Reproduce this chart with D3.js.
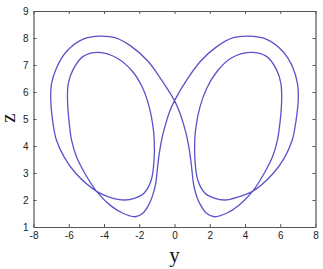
<!DOCTYPE html>
<html>
<head>
<meta charset="utf-8">
<script src="https://cdn.jsdelivr.net/npm/d3@7"></script>
<style>
  html, body { margin: 0; padding: 0; background: #fff; }
  svg { display: block; }
</style>
</head>
<body>
<svg id="chart" width="323" height="269"></svg>
<script>
// Tick values
const xTicks = [-8, -6, -4, -2, 0, 2, 4, 6, 8];
const yTicks = [1, 2, 3, 4, 5, 6, 7, 8, 9];

// Orbit, in drawing order (closed path)
const orbitY = [
  0, 0.69, 1.45, 2.40, 3.34, 4.18, 5.20, 6.15, 6.72, 6.98, 7.02, 6.90, 6.68, 6.25, 5.58, 4.43,
  3.63, 2.87, 2.30, 1.73, 1.32, 1.16, 1.15, 1.22, 1.45, 1.83, 2.40, 3.20, 4.30,
  5.24, 5.80, 6.04, 6.08, 6.00, 5.84, 5.56, 5.09, 4.43,
  3.66, 2.95, 2.26, 1.80, 1.45, 1.25, 1.08, 0.98, 0.88, 0.70, 0.50, 0.28, 0,
  -0.73, -1.48, -2.43, -3.38, -4.22, -5.18, -6.13, -6.69, -6.98, -7.02, -6.92, -6.70, -6.25, -5.58, -4.42,
  -3.66, -2.84, -2.28, -1.72, -1.32, -1.16, -1.15, -1.22, -1.44, -1.80, -2.37, -3.24, -4.30,
  -5.20, -5.77, -6.03, -6.07, -5.99, -5.84, -5.56, -5.09, -4.42,
  -3.66, -2.93, -2.23, -1.78, -1.43, -1.24, -1.07, -0.97, -0.87, -0.69, -0.49, -0.28
];
const orbitZ = [
  5.68, 6.44, 7.12, 7.68, 8.01, 8.07, 7.96, 7.50, 6.90, 6.30, 5.70, 4.96, 4.22, 3.58, 2.97, 2.32,
  2.12, 2.00, 2.06, 2.25, 2.74, 3.48, 4.22, 4.72, 5.46, 6.14, 6.75, 7.25, 7.47,
  7.31, 6.81, 6.30, 5.70, 4.96, 4.22, 3.60, 2.99, 2.32,
  1.81, 1.51, 1.38, 1.52, 1.85, 2.15, 2.60, 3.15, 3.70, 4.35, 4.84, 5.27, 5.68,
  6.44, 7.12, 7.68, 8.01, 8.07, 7.96, 7.50, 6.90, 6.30, 5.70, 4.96, 4.22, 3.58, 2.97, 2.32,
  2.10, 2.00, 2.06, 2.26, 2.74, 3.48, 4.22, 4.72, 5.46, 6.14, 6.75, 7.25, 7.47,
  7.31, 6.81, 6.30, 5.70, 4.96, 4.22, 3.60, 2.99, 2.32,
  1.81, 1.51, 1.38, 1.52, 1.86, 2.17, 2.60, 3.15, 3.70, 4.35, 4.84, 5.27
];

const xLabel = "y";
const yLabel = "z";

const mLeft = 33.5, mRight = 315.5, mTop = 11, mBottom = 227;

const svg = d3.select("#chart");
const x = d3.scaleLinear().domain([-8, 8]).range([mLeft, mRight]);
const y = d3.scaleLinear().domain([1, 9]).range([mBottom, mTop]);

const axisColor = "#555";
const fmt = d => String(d);

function styleAxis(g) {
  g.selectAll(".domain").attr("stroke", axisColor).attr("stroke-width", 1.2);
  g.selectAll(".tick line").attr("stroke", axisColor).attr("stroke-width", 1);
  g.selectAll(".tick text").attr("fill", "#222")
    .attr("font-family", "'Liberation Sans', Arial, sans-serif").attr("font-size", "10px");
}

svg.append("g").attr("transform", `translate(0,${mBottom})`)
  .call(d3.axisBottom(x).tickValues(xTicks).tickFormat(fmt).tickSize(-3).tickSizeOuter(0).tickPadding(5))
  .call(styleAxis);
svg.append("g").attr("transform", `translate(0,${mTop})`)
  .call(d3.axisTop(x).tickValues(xTicks).tickFormat("").tickSize(-3).tickSizeOuter(0))
  .call(styleAxis);
svg.append("g").attr("transform", `translate(${mLeft},0)`)
  .call(d3.axisLeft(y).tickValues(yTicks).tickFormat(fmt).tickSize(-3).tickSizeOuter(0).tickPadding(5))
  .call(styleAxis);
svg.append("g").attr("transform", `translate(${mRight},0)`)
  .call(d3.axisRight(y).tickValues(yTicks).tickFormat("").tickSize(-3).tickSizeOuter(0))
  .call(styleAxis);

const pts = orbitY.map((v, i) => [v, orbitZ[i]]);
const line = d3.line().x(d => x(d[0])).y(d => y(d[1])).curve(d3.curveCatmullRomClosed.alpha(0.5));
svg.append("path").datum(pts).attr("d", line)
  .attr("fill", "none").attr("stroke", "#5a52c8").attr("stroke-width", 1.3);

svg.append("text").attr("x", (mLeft + mRight) / 2).attr("y", 262)
  .attr("text-anchor", "middle").attr("font-family", "'Liberation Serif', 'Times New Roman', serif")
  .attr("font-size", "21px").attr("fill", "#111").text(xLabel);
svg.append("text").attr("transform", "translate(15,118) rotate(-90)")
  .attr("text-anchor", "middle").attr("font-family", "'Liberation Serif', 'Times New Roman', serif")
  .attr("font-size", "21px").attr("fill", "#111").text(yLabel);
</script>
</body>
</html>
